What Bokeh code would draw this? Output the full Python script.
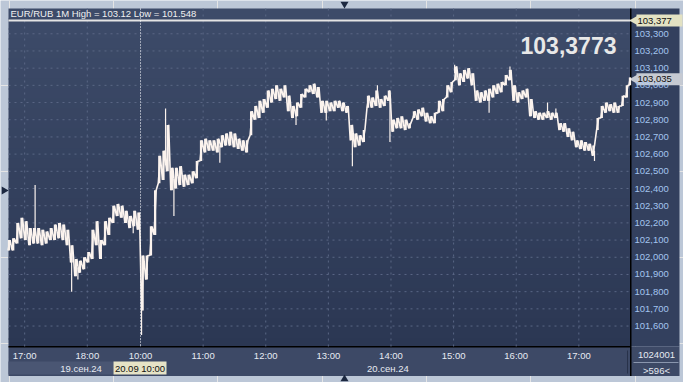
from bokeh.plotting import figure
from bokeh.models import Range1d, BoxAnnotation, ColumnDataSource
from bokeh.core.properties import value
from bokeh.embed import file_html
from bokeh.resources import INLINE

# ---------------- data ----------------
# minute index: 0 = 19 Sep 16:45 ... 125 = 19 Sep 18:50, 126 = 20 Sep 10:00 ... 595 = 20 Sep 17:49
bar_minute = list(range(0, 593, 4)) + [595]
bar_high = [102.10, 102.11, 102.20, 102.23, 102.21, 102.17, 102.17, 102.17, 102.16, 102.15,
            102.17, 102.19, 102.20, 102.19, 102.16, 102.07, 101.99, 101.98, 102.00, 102.03,
            102.16, 102.21, 102.10, 102.21, 102.23, 102.30, 102.31, 102.30, 102.27, 102.24,
            102.27, 102.26, 102.01, 102.01, 102.18, 102.39, 102.59, 102.62, 102.77, 102.52,
            102.52, 102.53, 102.48, 102.48, 102.50, 102.56, 102.68, 102.69, 102.68, 102.68,
            102.69, 102.71, 102.72, 102.73, 102.72, 102.69, 102.68, 102.68, 102.85, 102.88,
            102.91, 102.92, 102.97, 102.98, 103.00, 102.98, 103.00, 102.94, 102.88, 102.90,
            102.95, 102.98, 103.00, 103.01, 102.99, 102.91, 102.91, 102.90, 102.91, 102.91,
            102.90, 102.88, 102.77, 102.72, 102.71, 102.74, 102.94, 102.93, 102.97, 102.92,
            102.94, 102.97, 102.80, 102.81, 102.82, 102.80, 102.78, 102.85, 102.86, 102.87,
            102.84, 102.82, 102.84, 102.91, 102.92, 103.00, 103.02, 103.11, 103.07, 103.09,
            103.10, 103.07, 102.97, 102.96, 102.97, 102.98, 103.00, 103.01, 103.02, 103.06,
            103.09, 103.00, 102.96, 102.97, 102.98, 102.92, 102.85, 102.84, 102.84, 102.85,
            102.84, 102.84, 102.78, 102.78, 102.75, 102.73, 102.68, 102.68, 102.67, 102.66,
            102.65, 102.81, 102.88, 102.90, 102.89, 102.90, 102.88, 102.94, 103.00, 103.045]
bar_low = [102.04, 102.04, 102.08, 102.11, 102.10, 102.07, 102.08, 102.08, 102.07, 102.08,
           102.10, 102.10, 102.11, 102.10, 102.07, 101.97, 101.89, 101.91, 101.93, 101.97,
           101.99, 102.07, 101.99, 102.07, 102.13, 102.20, 102.24, 102.23, 102.20, 102.17,
           102.18, 102.16, 101.69, 101.87, 102.01, 102.13, 102.43, 102.45, 102.50, 102.39,
           102.40, 102.42, 102.41, 102.42, 102.43, 102.46, 102.56, 102.61, 102.62, 102.62,
           102.61, 102.64, 102.65, 102.65, 102.64, 102.63, 102.62, 102.61, 102.71, 102.80,
           102.81, 102.84, 102.87, 102.90, 102.92, 102.91, 102.93, 102.85, 102.81, 102.82,
           102.87, 102.93, 102.96, 102.95, 102.93, 102.84, 102.84, 102.85, 102.85, 102.87,
           102.85, 102.84, 102.68, 102.64, 102.65, 102.67, 102.87, 102.87, 102.88, 102.87,
           102.88, 102.91, 102.73, 102.75, 102.75, 102.74, 102.75, 102.81, 102.80, 102.82,
           102.79, 102.78, 102.78, 102.84, 102.85, 102.93, 102.96, 103.03, 103.00, 103.02,
           103.04, 103.00, 102.91, 102.90, 102.91, 102.91, 102.93, 102.95, 102.96, 103.00,
           103.03, 102.91, 102.90, 102.92, 102.93, 102.82, 102.81, 102.80, 102.80, 102.81,
           102.80, 102.81, 102.74, 102.73, 102.70, 102.68, 102.64, 102.63, 102.62, 102.62,
           102.59, 102.74, 102.81, 102.84, 102.85, 102.84, 102.84, 102.88, 102.93, 103.00]
spike_minute = [25, 60, 66, 119, 127, 150, 158, 202, 275, 304, 329, 353, 365, 427, 460, 480, 516, 524, 561]
spike_price = [102.42, 101.80, 101.87, 102.14, 101.548, 102.865, 102.24, 102.55, 102.77, 102.795,
               102.53, 103.00, 102.67, 103.12, 102.84, 103.11, 102.90, 102.865, 102.56]

hour_ticks = [15, 75, 126, 186, 246, 306, 366, 426, 486, 546]
hour_labels = ["17:00", "18:00", "10:00", "11:00", "12:00", "13:00", "14:00", "15:00", "16:00", "17:00"]
date_ticks = [69, 363]
date_labels = ["19.сен.24", "20.сен.24"]
price_ticks = [101.6, 101.7, 101.8, 101.9, 102.0, 102.1, 102.2, 102.3, 102.4, 102.5,
               102.6, 102.7, 102.8, 102.9, 103.0, 103.1, 103.2, 103.3]
level_price = 103.377
last_price = 103.035
quote_text = "103,3773"
title_text = "EUR/RUB 1M High = 103.12 Low = 101.548"
cursor_minute = 126
cursor_text = "20.09 10:00"
corner_top = "1024001"
corner_bottom = ">596<"

# ---------------- layout / style ----------------
W, H = 683, 382
FL, FR, FT, FB = 8, 630, 8, 346          # price area inside the page (pixels)
M0, M1 = -0.5, 595.5                     # minutes shown in the price area
P_BOT, P_TOP = 101.481, 103.447          # prices shown in the price area
KX = (FR - FL) / (M1 - M0)
KY = (FB - FT) / (P_TOP - P_BOT)
GRAY = "#bcc7d7"
PANEL_R = "#33405e"
PANEL_B = "#3d4966"
FONT = "Liberation Sans"
FS = "9.5px"
INK = "#fbf3ee"


def X(px):
    return M0 + (px - FL) / KX


def Y(py):
    return P_TOP - (py - FT) / KY


def fmt(v, d=3):
    return f"{v:.{d}f}".replace(".", ",")


p = figure(width=W, height=H, x_range=Range1d(X(0), X(W)), y_range=Range1d(Y(H), Y(0)),
           output_backend="svg", toolbar_location=None, title=None,
           x_axis_location=None, y_axis_location=None,
           min_border_left=0, min_border_top=0, min_border_right=0, min_border_bottom=0,
           border_fill_color=GRAY, background_fill_color=GRAY, outline_line_color=None)


def box(l, r, t, b, color):
    p.add_layout(BoxAnnotation(left=X(l), right=X(r), top=Y(t), bottom=Y(b), fill_color=color,
                               fill_alpha=1, line_color=None, level="underlay"))


# vertical gradient of the price area
top_c, bot_c = (61, 75, 105), (43, 55, 83)
n = 34
for i in range(n):
    t = i / (n - 1)
    c = tuple(int(round(a + (b - a) * t)) for a, b in zip(top_c, bot_c))
    box(FL, FR, FT + i * 10, min(FB, FT + (i + 1) * 10 + 1), "#%02x%02x%02x" % c)

# side panels
box(FR, 679, FT, FB, PANEL_R)
box(FL, 679, FB, 375.5, PANEL_B)
box(FL, 113, 361, 374, "#4a5673")            # 19 Sep date strip
box(113, 166, 361, 374, "#e6e3c6")           # cursor time box
box(626.5, 627.5, 350, 373, "#28324a")       # separator in the time scale
box(633, 678, 361.5, 362.5, "#8a96ae")       # separator in the corner box
box(629.5, 631, FT, 375.5, "black")          # price scale border
box(FL, FR, 345.5, 347, "black")             # time scale border

# level boxes on the price scale
for price, col in [(level_price, "#e3e2c3"), (last_price, "#c6cad2")]:
    p.add_layout(BoxAnnotation(left=X(636), right=X(682), top=price + 6 / KY, bottom=price - 6 / KY,
                               fill_color=col, fill_alpha=1, line_color=None, level="underlay"))
    p.scatter(x=[X(634)], y=[price], marker="triangle", angle=1.5708, size=9,
              fill_color=col, line_color=None)

# grid
grid_kw = dict(line_color="#5a6785", line_dash="2 4", line_width=1)
p.segment(x0=hour_ticks, y0=[Y(FT)] * len(hour_ticks), x1=hour_ticks, y1=[Y(FB)] * len(hour_ticks), **grid_kw)
p.segment(x0=[M0] * len(price_ticks), y0=price_ticks, x1=[M1] * len(price_ticks), y1=price_ticks, **grid_kw)

# price bars: high-low strokes joined as a saw-tooth trace
src = ColumnDataSource(dict(x=bar_minute, hi=bar_high, lo=bar_low))
p.vbar(x="x", width=2.2, bottom="lo", top="hi", source=src, fill_color=INK, line_color=None)
zx, zy = [], []
for m, h, l in zip(bar_minute, bar_high, bar_low):
    zx += [m - 1, min(m + 1, M1 - 0.2)]
    zy += [l, h]
p.line(x=zx, y=zy, line_color=INK, line_width=1.6)

mid = {m: (h + l) / 2 for m, h, l in zip(bar_minute, bar_high, bar_low)}
base = [mid[min(bar_minute, key=lambda b: abs(b - m))] for m in spike_minute]
p.segment(x0=spike_minute, y0=base, x1=spike_minute, y1=spike_price, line_color=INK, line_width=1.2)

# level line and cursor
p.segment(x0=[M0], y0=[level_price], x1=[M1], y1=[level_price], line_color="#e4e4e4", line_width=2)
p.segment(x0=[cursor_minute], y0=[Y(FT)], x1=[cursor_minute], y1=[Y(FB)],
          line_color="white", line_width=1, line_dash="1 2")

txt = dict(text_font=value(FONT), text_font_size=value(FS), text_baseline="middle")

# price scale labels
p.text(x=[X(634)] * len(price_ticks), y=price_ticks, text=[fmt(v) for v in price_ticks],
       text_color="#a3c4ee", text_align="left", **txt)
p.text(x=[X(637), X(637)], y=[level_price, last_price], text=[fmt(level_price), fmt(last_price)],
       text_color="#101010", text_align="left", **txt)

# time scale labels
p.text(x=hour_ticks, y=[Y(355)] * len(hour_ticks), text=hour_labels,
       text_color="#e6eaf2", text_align="center", **txt)
p.text(x=date_ticks, y=[Y(367.5)] * len(date_ticks), text=date_labels,
       text_color="#e6eaf2", text_align="center", **txt)
p.text(x=[X(139.5)], y=[Y(367.5)], text=[cursor_text], text_color="#101010", text_align="center", **txt)

# corner box
p.text(x=[X(656), X(656)], y=[Y(354.5), Y(369.5)], text=[corner_top, corner_bottom],
       text_color="#e6eaf2", text_align="center", **txt)

# title and quote
p.text(x=[X(10)], y=[Y(13)], text=[title_text], text_color="#f0f0f0", text_align="left", **txt)
p.text(x=[X(568)], y=[Y(45)], text=[quote_text], text_font=value(FONT), text_font_size=value("23px"),
       text_font_style="bold", text_color="#e8e8e8", text_align="center", text_baseline="middle")

# small navigation triangles on the frame
p.scatter(x=[X(344), X(344), X(3.5)], y=[Y(3.5), Y(378.5), Y(190)],
          marker="triangle", angle=[3.14159, 0, -1.5708], size=8, fill_color="#1c2840", line_color=None)

open("out.html", "w").write(file_html(p, INLINE))
